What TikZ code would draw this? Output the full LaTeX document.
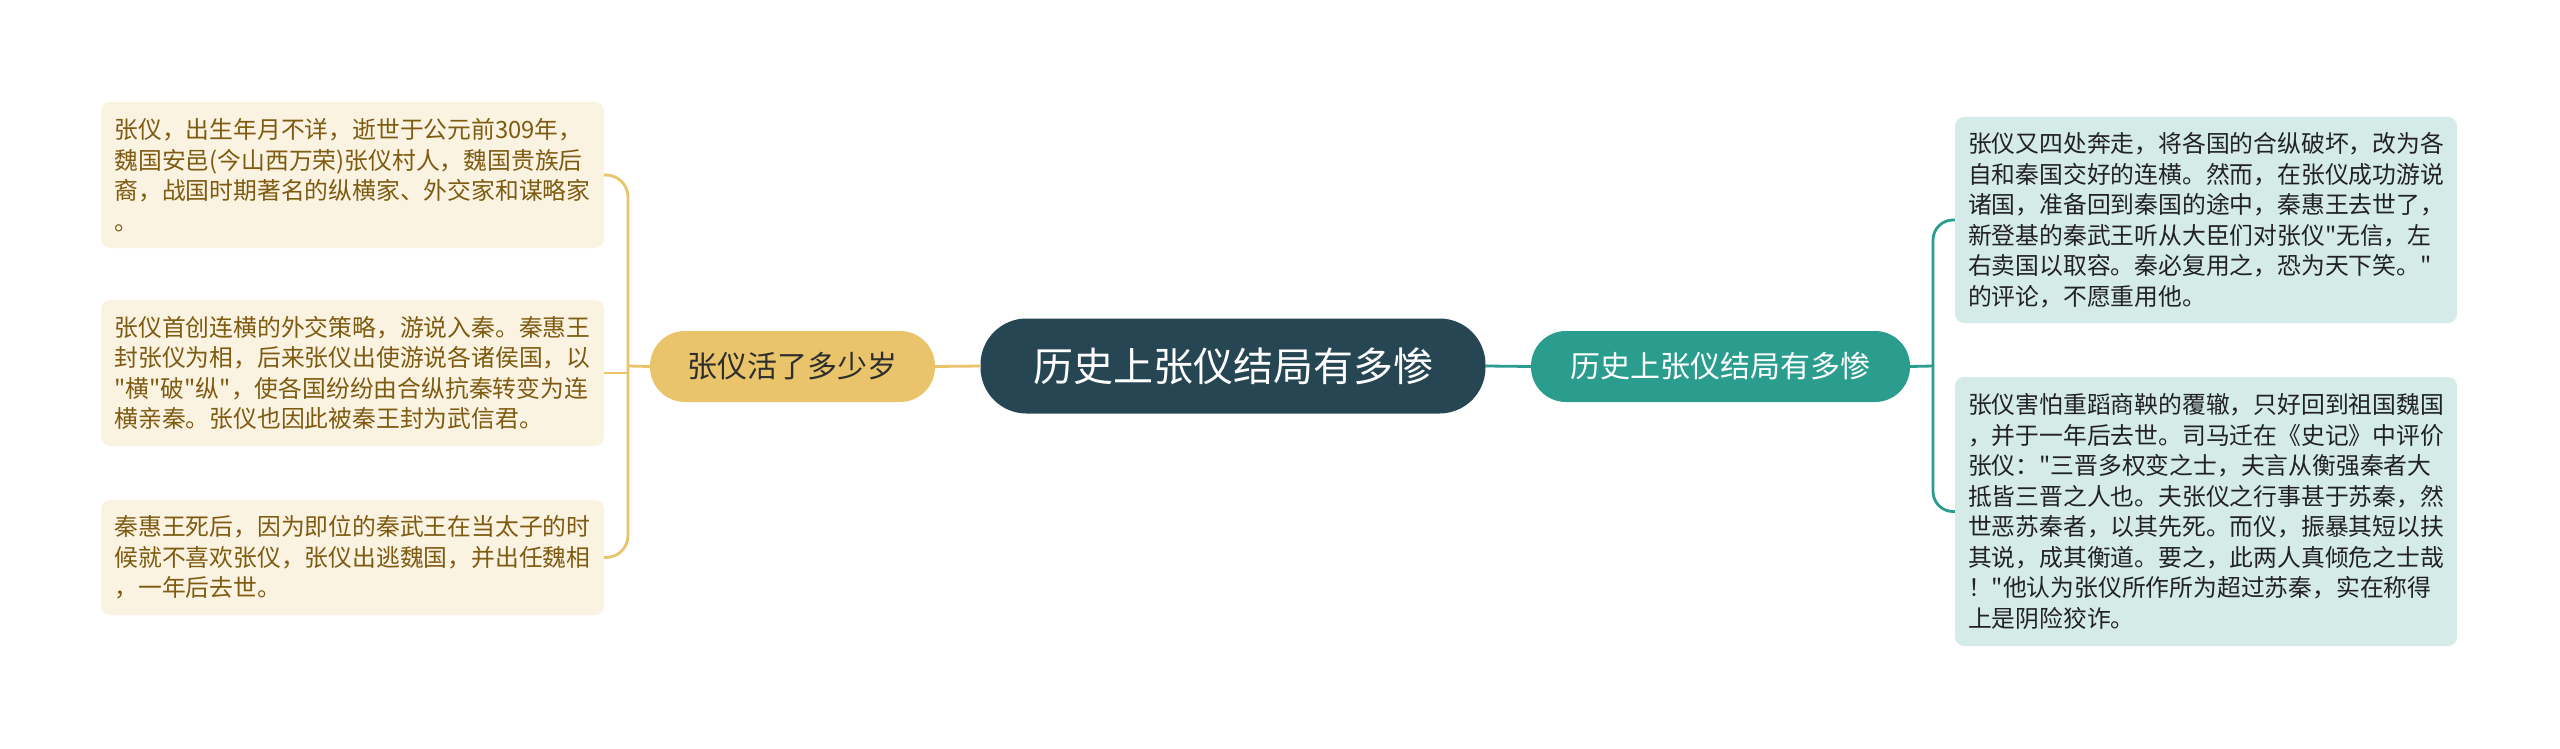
\documentclass[tikz,border=0pt]{standalone}
\usepackage{fontspec}
\setmainfont{Noto Sans CJK SC}
\font\cjkq="Noto Sans CJK SC" at 23.8pt
\newcommand{\dq}{{\cjkq\char"22}}
\definecolor{cdark}{HTML}{264653}
\definecolor{cteal}{HTML}{2A9D8F}
\definecolor{cyel}{HTML}{E9C46A}
\definecolor{lfill}{HTML}{FBF3E2}
\definecolor{rfill}{HTML}{D4EBE8}
\definecolor{ltext}{HTML}{7E5B10}
\definecolor{rtext}{HTML}{222222}
\definecolor{ytext}{HTML}{2E2E2E}
\tikzset{
  rootnode/.style={fill=cdark, text=white, rounded corners=46pt, minimum width=505pt, minimum height=95pt, inner sep=0pt, font=\fontsize{40}{48}\selectfont},
  yelnode/.style={fill=cyel, text=ytext, rounded corners=35pt, minimum width=285pt, minimum height=71pt, inner sep=0pt, font=\fontsize{30}{36}\selectfont},
  tealnode/.style={fill=cteal, text=white, rounded corners=35pt, minimum width=379pt, minimum height=71pt, inner sep=0pt, font=\fontsize{30}{36}\selectfont},
  lbox/.style={fill=lfill, text=ltext, rounded corners=9pt, text width=476pt, inner xsep=13.5pt, inner ysep=0pt, align=left, font=\fontsize{23.8}{30.5}\selectfont},
  rbox/.style={fill=rfill, text=rtext, rounded corners=9pt, text width=476pt, inner xsep=13pt, inner ysep=0pt, align=left, font=\fontsize{23.8}{30.5}\selectfont},
  ycon/.style={draw=cyel, line width=2.8pt},
  tcon/.style={draw=cteal, line width=2.8pt},
}
\begin{document}
\begin{tikzpicture}[x=1pt,y=-1pt]
\useasboundingbox[fill=white] (0,0) rectangle (2560,749);

\node[rootnode] (root) at (1233,366) {历史上张仪结局有多惨};
\node[yelnode] (y1) at (792.5,366.5) {张仪活了多少岁};
\node[tealnode] (t1) at (1720.5,366.5) {历史上张仪结局有多惨};

\node[lbox, minimum height=146pt] (lb1) at (352.5,175) {张仪，出生年月不详，逝世于公元前309年，\\魏国安邑(今山西万荣)张仪村人，魏国贵族后\\裔，战国时期著名的纵横家、外交家和谋略家\\。};
\node[lbox, minimum height=146pt] (lb2) at (352.5,373) {张仪首创连横的外交策略，游说入秦。秦惠王\\封张仪为相，后来张仪出使游说各诸侯国，以\\\dq 横\dq 破\dq 纵\dq ，使各国纷纷由合纵抗秦转变为连\\横亲秦。张仪也因此被秦王封为武信君。};
\node[lbox, minimum height=115pt] (lb3) at (352.5,557.5) {秦惠王死后，因为即位的秦武王在当太子的时\\候就不喜欢张仪，张仪出逃魏国，并出任魏相\\，一年后去世。};

\node[rbox, minimum height=206pt] (rb1) at (2206,220) {张仪又四处奔走，将各国的合纵破坏，改为各\\自和秦国交好的连横。然而，在张仪成功游说\\诸国，准备回到秦国的途中，秦惠王去世了，\\新登基的秦武王听从大臣们对张仪\dq 无信，左\\右卖国以取容。秦必复用之，恐为天下笑。\dq\\的评论，不愿重用他。};
\node[rbox, minimum height=269pt] (rb2) at (2206,511.5) {张仪害怕重蹈商鞅的覆辙，只好回到祖国魏国\\，并于一年后去世。司马迁在《史记》中评价\\张仪：\dq 三晋多权变之士，夫言从衡强秦者大\\抵皆三晋之人也。夫张仪之行事甚于苏秦，然\\世恶苏秦者，以其先死。而仪，振暴其短以扶\\其说，成其衡道。要之，此两人真倾危之士哉\\！\dq 他认为张仪所作所为超过苏秦，实在称得\\上是阴险狡诈。};

\coordinate (lspine) at (628,366);
\coordinate (rspine) at (1933,366);

\draw[ycon] (root.west) -- (y1.east);
\draw[ycon] (y1.west) -- (lspine);
\draw[ycon, rounded corners=22pt] (lb1.east) -| (lspine) |- (lb3.east);
\draw[ycon] (lb2.east) -- (lb2.east -| lspine);

\draw[tcon] (root.east) -- (t1.west);
\draw[tcon] (t1.east) -- (rspine);
\draw[tcon, rounded corners=20pt] (rb1.west) -| (rspine) |- (rb2.west);
\end{tikzpicture}
\end{document}
